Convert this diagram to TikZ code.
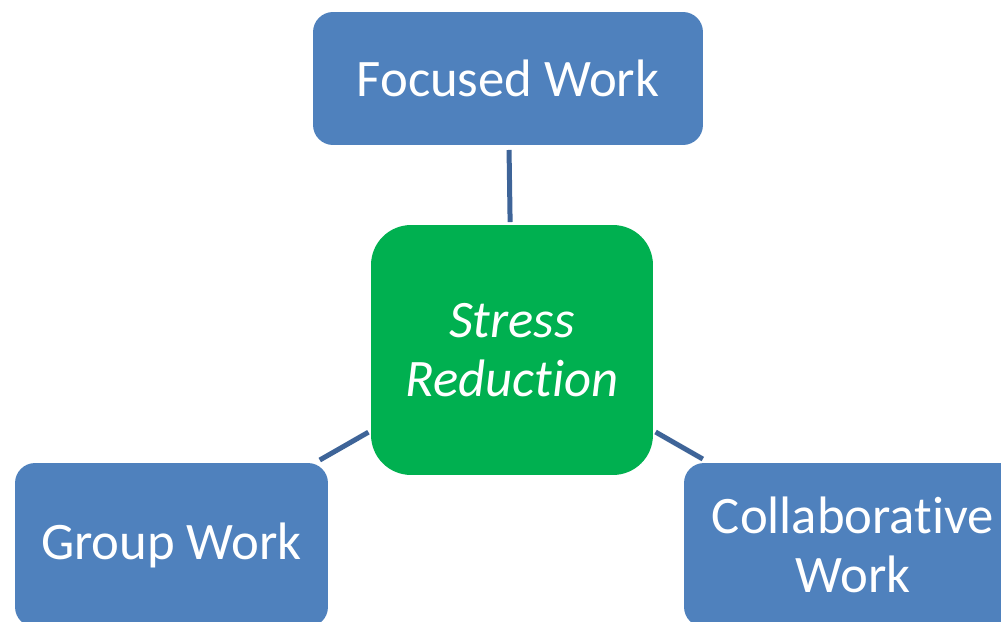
\documentclass[tikz,border=0pt]{standalone}
\usepackage{fontspec}
\setmainfont{Carlito}[Ligatures=NoCommon]
\definecolor{boxblue}{RGB}{79,129,189}
\definecolor{stressgreen}{RGB}{0,176,80}
\definecolor{linkblue}{RGB}{62,100,152}

\begin{document}
\begin{tikzpicture}[x=0.02cm, y=-0.02cm,
  every node/.style={rounded corners=0.4cm, text=white, align=center, inner sep=0pt, outer sep=0pt, font=\fontsize{30}{34}\selectfont},
  topicbox/.style={fill=boxblue, minimum height=3.28cm},
  link/.style={draw=linkblue, line width=0.1cm}]
\useasboundingbox (0,0) rectangle (1001,622);
\clip (0,0) rectangle (1001,622);

\node[fill=boxblue, minimum width=7.8cm, minimum height=2.66cm] (focus) at (508,78.5) {Focused Work};
\node[fill=stressgreen, minimum width=5.64cm, minimum height=5cm, rounded corners=0.8cm, font=\fontsize{30}{34}\selectfont\itshape] (stress) at (512,350) {Stress\\Reduction};
\node[topicbox, minimum width=6.26cm] (group) at (171.5,545) {Group Work};
\node[topicbox, minimum width=6.76cm] (collab) at (853,545) {Collaborative\\Work};

\draw[link, shorten <=0.1cm, shorten >=0.06cm] (focus) -- (stress);
\draw[link, shorten <=0.12cm, shorten >=0.06cm] (group) -- (stress);
\draw[link, shorten <=0.06cm, shorten >=0.16cm] (stress) -- (collab);
\end{tikzpicture}
\end{document}
